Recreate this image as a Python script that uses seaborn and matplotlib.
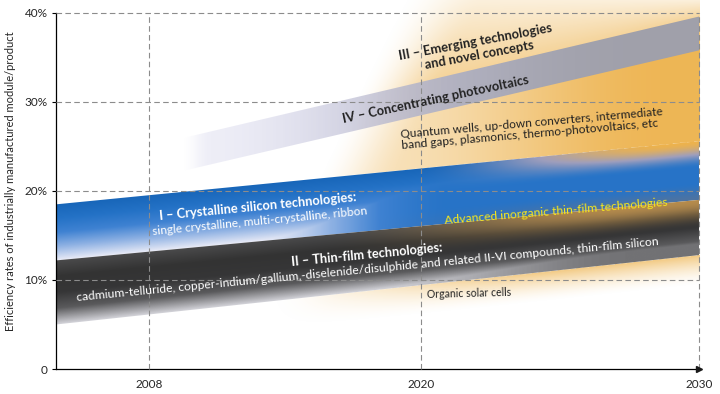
import numpy as np
import matplotlib.pyplot as plt
import seaborn as sns

# x runs along the time axis: 0 = left edge of the chart, 100 = 2030 (axis is not linear in years)
# y is efficiency in %
x_ticks = [14.5, 56.8, 100]
x_labels = ['2008', '2020', '2030']
y_ticks = [0, 10, 20, 30, 40]
y_labels = ['0', '10%', '20%', '30%', '40%']

band_x = [0, 100]
crystalline_top = [18.5, 25.6]
crystalline_bottom = [12.2, 19.0]
thinfilm_bottom = [5.0, 12.8]

cpv_x = [20, 100]
cpv_top = [26.0, 39.6]
cpv_bottom = [22.3, 35.8]

# left (fuzzy) border of the emerging-technologies wedge
wedge_y = [7.3, 41.5]
wedge_x = [31.0, 53.5]

y_top = 41.46

sns.set_theme(style="white")
plt.rcParams['font.family'] = ['Lato', 'DejaVu Sans']

fig = plt.figure(figsize=(7.2, 3.94), dpi=100)
ax = fig.add_axes([56 / 720, 25 / 394, 643 / 720, 369 / 394])


def ramp(v, a, b):
    return np.clip((v - a) / (b - a), 0, 1)


def smooth(v):
    v = np.clip(v, 0, 1)
    return v * v * (3 - 2 * v)


def mix(c1, c2, w):
    w = w[..., None]
    return np.asarray(c1) * (1 - w) + np.asarray(c2) * w


nx, ny = 900, 540
gx = np.linspace(0, 100, nx)
gy = np.linspace(0, y_top, ny)
X, Y = np.meshgrid(gx, gy)
U = X / 100

c_top = np.interp(X, band_x, crystalline_top)
c_bot = np.interp(X, band_x, crystalline_bottom)
t_bot = np.interp(X, band_x, thinfilm_bottom)
p_top = np.interp(X, cpv_x, cpv_top)
p_bot = np.interp(X, cpv_x, cpv_bottom)
w_x = np.interp(Y, wedge_y, wedge_x)

orange = np.array([0.93, 0.70, 0.30])
extent = [0, 100, 0, y_top]

# --- III emerging technologies: soft orange wedge behind everything
h = smooth((X - w_x) / 13)
a_above = 0.56 - 0.36 * ramp(Y, p_top, y_top)
a_mid = 0.40 + 0.55 * smooth(ramp(U, 0.5, 0.95))
a_under = a_mid + (0.56 - a_mid) * ramp(Y, p_bot, p_top)
a_org = 0.7 * (1 - ramp(t_bot - Y, 0, 3.4)) ** 1.6
a_bg = np.where(Y >= p_top, a_above,
                np.where(Y >= p_bot, a_under,
                         np.where(Y >= c_top, a_mid,
                                  np.where(Y <= t_bot, a_org * smooth(ramp(U, 0.28, 0.8)), 0))))
bg = np.zeros((ny, nx, 4))
bg[..., :3] = orange
bg[..., 3] = np.clip(a_bg * h, 0, 1)
ax.imshow(bg, extent=extent, origin='lower', aspect='auto', zorder=1, interpolation='bilinear')

# --- I crystalline silicon (blue)
blue_cmap = sns.blend_palette(["#e8eaf6", "#8eb1e3", "#3f82d2", "#2472c6", "#1866b9"], as_cmap=True)
t = np.clip((Y - c_bot) / (c_top - c_bot), 0, 1)
t_col = np.maximum(t, 0.72 * smooth(ramp(U, 0.3, 0.62)))
blue = blue_cmap(t_col)[..., :3]
# bottom edge of the blue band darkens into the tan band on the right
w_bot = (1 - smooth(ramp(t, 0, 0.3))) * smooth(ramp(U, 0.45, 0.9)) * 0.55
blue = mix(blue, [0.42, 0.45, 0.52], w_bot)
w = smooth(ramp(t, 0.55, 1.0)) * smooth(ramp(U, 0.55, 0.95))
lav = np.array([0.62, 0.62, 0.74])
blue = np.where((w < 0.5)[..., None], mix(blue, lav, np.clip(w * 2, 0, 1)),
                mix(lav * np.ones_like(blue), orange, np.clip(w * 2 - 1, 0, 1)))
img = np.dstack([blue, np.ones((ny, nx))])
poly = ax.fill_between(band_x, crystalline_bottom, crystalline_top, facecolor='none', lw=0)
im = ax.imshow(img, extent=extent, origin='lower', aspect='auto', zorder=2, interpolation='bilinear')
im.set_clip_path(poly.get_paths()[0], transform=ax.transData)

# --- II thin-film (dark) with advanced inorganic tint on the right
dark_cmap = sns.blend_palette(["#d2d2d8", "#5a5a5c", "#363637", "#333333", "#4a4a4b"], as_cmap=True)
t = np.clip((Y - t_bot) / (c_bot - t_bot), 0, 1)
t_col = np.maximum(t, 0.2 * smooth(ramp(U, 0.45, 0.9)))
dark = dark_cmap(t_col)[..., :3]
w_adv = smooth(ramp(t, 0.5, 1.0)) * smooth(ramp(U, 0.4, 0.9)) * 0.92
dark = mix(dark, [0.75, 0.57, 0.30], w_adv)
img = np.dstack([dark, np.ones((ny, nx))])
poly = ax.fill_between(band_x, thinfilm_bottom, crystalline_bottom, facecolor='none', lw=0)
im = ax.imshow(img, extent=extent, origin='lower', aspect='auto', zorder=2, interpolation='bilinear')
im.set_clip_path(poly.get_paths()[0], transform=ax.transData)

# --- IV concentrating photovoltaics (grey)
s = smooth(ramp(X, 20, 90))
grey = mix(np.ones((ny, nx, 3)) * [0.82, 0.82, 0.92], [0.63, 0.63, 0.67], s)
alpha = (0.35 + 0.65 * smooth(ramp(X, 20, 65))) * smooth(ramp(X, 19.5, 24))
img = np.dstack([grey, alpha])
poly = ax.fill_between(cpv_x, cpv_bottom, cpv_top, facecolor='none', lw=0)
im = ax.imshow(img, extent=extent, origin='lower', aspect='auto', zorder=2.2, interpolation='bilinear')
im.set_clip_path(poly.get_paths()[0], transform=ax.transData)

# grid on top of the bands
grid_kw = dict(color='#8c8c8c', lw=0.8, linestyle=(0, (5, 3)), zorder=2.6, clip_on=False)
ax.hlines(y_ticks[1:], 0, 100, **grid_kw)
ax.vlines(x_ticks, 0, 40, **grid_kw)

# labels on the bands
txt = dict(ha='center', va='center', rotation_mode='anchor', zorder=5)
ax.text(31.4, 18.2, 'I – Crystalline silicon technologies:', color='white', fontsize=9.3,
        fontweight='bold', rotation=5.5, **txt)
ax.text(31.7, 16.6, 'single crystalline, multi-crystalline, ribbon', color='white', fontsize=8.6,
        rotation=5.5, **txt)
ax.text(48.4, 12.8, 'II – Thin-film technologies:', color='white', fontsize=9.2,
        fontweight='bold', rotation=5.5, **txt)
ax.text(48.5, 11.2, 'cadmium-telluride, copper-indium/gallium,-diselenide/disulphide and related '
        'II-VI compounds, thin-film silicon', color='white', fontsize=8.7, rotation=5.5, **txt)
ax.text(77.8, 17.75, 'Advanced inorganic thin-film technologies', color='#f7e81c', fontsize=8.7,
        rotation=4.7, **txt)
ax.text(64.2, 8.5, 'Organic solar cells', color='#222222', fontsize=7.6, rotation=1.5, **txt)
ax.text(74.0, 27.0, 'Quantum wells, up-down converters, intermediate\n'
        'band gaps, plasmonics, thermo-photovoltaics, etc', color='#222222', fontsize=8.6,
        rotation=5, multialignment='left', linespacing=1.05, **txt)
ax.text(59.1, 30.3, 'IV – Concentrating photovoltaics', color='#222222', fontsize=9.3,
        fontweight='bold', rotation=12, **txt)
ax.text(65.3, 36.8, 'III – Emerging technologies', color='#222222', fontsize=9.3,
        fontweight='bold', rotation=10.5, **txt)
ax.text(65.8, 35.3, 'and novel concepts', color='#222222', fontsize=9.3,
        fontweight='bold', rotation=10.5, **txt)

# axes
ax.set_xlim(0, 100)
ax.set_ylim(0, y_top)
ax.set_xticks(x_ticks)
ax.set_xticklabels(x_labels)
ax.set_yticks(y_ticks)
ax.set_yticklabels(y_labels)
ax.tick_params(axis='y', length=3, width=0.8, direction='out', color='black', labelsize=8.5, pad=3, left=True)
ax.tick_params(axis='x', length=0, labelsize=8.5, pad=7)
for side in ['top', 'right']:
    ax.spines[side].set_visible(False)
ax.spines['left'].set_bounds(0, 40)
for side in ['left', 'bottom']:
    ax.spines[side].set_color('black')
    ax.spines[side].set_linewidth(0.9)
ax.plot(1, 0, '>k', markersize=4, transform=ax.get_yaxis_transform(), clip_on=False, zorder=6)

ax.set_ylabel('Efficiency rates of industrially manufactured module/product', fontsize=8)
ax.yaxis.set_label_coords(-0.062, 0.51)

fig.savefig('out.png', dpi=100)
